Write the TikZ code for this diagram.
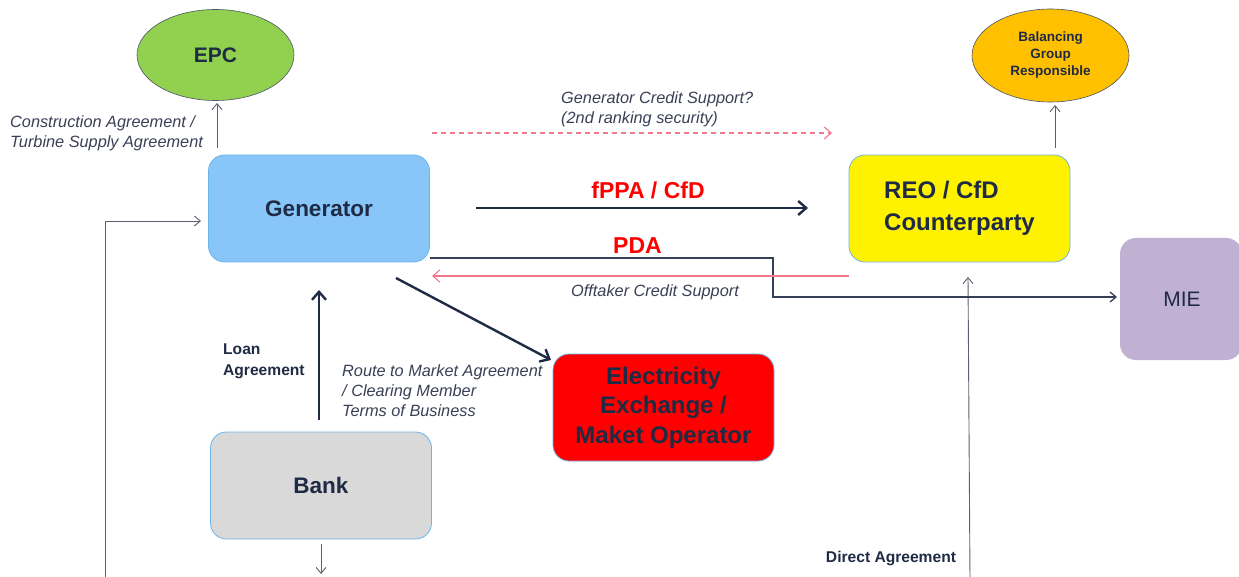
\documentclass[tikz,border=0pt]{standalone}
\usepackage{fontspec}
\setmainfont{Liberation Sans}
\usetikzlibrary{arrows.meta,shapes.geometric}
\definecolor{navy}{HTML}{1F2A44}
\definecolor{lbl}{HTML}{3A3F55}
\definecolor{bordblue}{HTML}{6CB4EC}
\definecolor{genblue}{HTML}{88C6FA}
\definecolor{epcgreen}{HTML}{92D050}
\definecolor{bgorange}{HTML}{FFC000}
\definecolor{mielav}{HTML}{C0B0D2}
\definecolor{bankgray}{HTML}{D9D9D9}
\definecolor{pinkline}{HTML}{F07A8C}
\definecolor{thingray}{HTML}{5A6070}
\tikzset{
  box/.style={rectangle, rounded corners=16pt, draw=bordblue, line width=0.8pt,
    minimum width=221pt, minimum height=107pt, inner sep=0pt, text=navy,
    font=\fontsize{22.5}{29}\selectfont\bfseries, align=center},
  oval/.style={ellipse, draw=navy!80, line width=0.6pt, minimum width=157pt,
    minimum height=91pt, inner sep=0pt, text=navy, align=center},
  thin/.style={draw=thingray, line width=0.9pt, -{Straight Barb[length=6pt,width=10pt]}},
  pdaline/.style={draw=navy!90, line width=1.3pt, -{Straight Barb[length=6pt,width=10pt]}},
  thick/.style={draw=navy, line width=2.4pt, -{Straight Barb[length=8pt,width=14pt,line width=2.4pt]}},
  pink/.style={draw=pinkline, line width=1.1pt, -{Straight Barb[length=7pt,width=12pt]}},
  ital/.style={text=lbl, font=\fontsize{16.3}{20}\selectfont\itshape, align=left, inner sep=0pt},
  bold/.style={text=navy, font=\fontsize{15.6}{21}\selectfont\bfseries, align=left, inner sep=0pt},
  redlbl/.style={text=red, font=\fontsize{23}{26}\selectfont\bfseries, inner sep=0pt}
}
\begin{document}
\begin{tikzpicture}[x=1pt,y=-1pt]
\useasboundingbox (0,0) rectangle (1239,577);
% nodes
\node[oval, fill=epcgreen, font=\fontsize{21}{24}\selectfont\bfseries] (epc) at (215.5,55) {EPC};
\node[oval, fill=bgorange, minimum height=93pt, font=\fontsize{13.5}{17}\selectfont\bfseries] (bgr) at (1050.5,55.5) {Balancing\\Group\\Responsible};
\node[box, fill=genblue] (gen) at (319,208.5) {Generator};
\node[box, fill=yellow, align=left, font=\fontsize{24}{32}\selectfont\bfseries] (reo) at (959.5,208.5) {REO / CfD\\Counterparty};
\node[box, fill=red, font=\fontsize{24}{29.5}\selectfont\bfseries] (ex) at (663.5,407.5) {Electricity\\Exchange /\\Maket Operator};
\node[box, fill=bankgray] (bank) at (321,485.5) {Bank};
\node[rectangle, rounded corners=16pt, fill=mielav, minimum width=122pt, minimum height=122pt,
  inner sep=0pt, text=navy, font=\fontsize{21}{24}\selectfont] (mie) at (1181,299) {\hspace*{2pt}MIE};
% coordinates
\coordinate (epcs) at (217,148);
\coordinate (epce) at (217,103);
\coordinate (bgrs) at (1055,148);
\coordinate (bgre) at (1055,105);
\coordinate (lbot) at (105,580);
\coordinate (lcorner) at (105,221);
\coordinate (lend) at (201,221);
\coordinate (dabot) at (970,580);
\coordinate (daend) at (968,277);
\coordinate (banks) at (321,544);
\coordinate (bankend) at (321,574);
\coordinate (pdas) at (430,258);
\coordinate (pdac1) at (773,258);
\coordinate (pdac2) at (773,297);
\coordinate (pdae) at (1117,297);
\coordinate (fps) at (476,208);
\coordinate (fpe) at (808,208);
\coordinate (dgs) at (396,278);
\coordinate (dge) at (551,360);
\coordinate (loans) at (319,420);
\coordinate (loane) at (319,290);
\coordinate (gcs) at (432,133);
\coordinate (gce) at (832,133);
\coordinate (ocs) at (849,276);
\coordinate (oce) at (432,276);
% connectors
\draw[thin] (epcs) -- (epce);
\draw[thin] (bgrs) -- (bgre);
\draw[thin] (lbot) -- (lcorner) -- (lend);
\draw[thin] (dabot) -- (daend);
\draw[thin] (banks) -- (bankend);
\draw[pdaline] (pdas) -- (pdac1) -- (pdac2) -- (pdae);
\draw[thick] (fps) -- (fpe);
\draw[thick] (dgs) -- (dge);
\draw[thick] (loans) -- (loane);
\draw[pink, dash pattern=on 5pt off 4pt] (gcs) -- (gce);
\draw[pink] (ocs) -- (oce);
% labels
\node[ital, anchor=west] (lca) at (10,133) {Construction Agreement /\\Turbine Supply Agreement};
\node[ital, anchor=west] (lgc) at (561,109.5) {Generator Credit Support?\\(2nd ranking security)};
\node[redlbl] (lfppa) at (648,190) {fPPA / CfD};
\node[redlbl] (lpda) at (637.5,246) {PDA};
\node[ital] (loff) at (655,292) {Offtaker Credit Support};
\node[bold, anchor=west] (lloan) at (223,361) {Loan\\Agreement};
\node[ital, anchor=west] (lrtm) at (342,391) {Route to Market Agreement\\/ Clearing Member\\Terms of Business};
\node[bold] (lda) at (891,558) {Direct Agreement};
\end{tikzpicture}
\end{document}
